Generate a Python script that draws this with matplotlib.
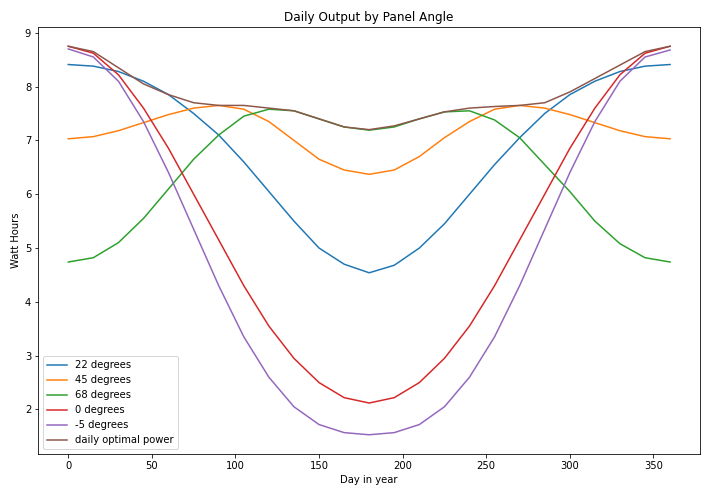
import matplotlib
matplotlib.use("Agg")
import matplotlib.pyplot as plt

days = list(range(0, 361, 15))

deg22 = [8.41, 8.38, 8.28, 8.1, 7.85, 7.5, 7.1, 6.6, 6.05, 5.5, 5.0, 4.7, 4.54,
         4.68, 5.0, 5.45, 6.0, 6.55, 7.05, 7.5, 7.85, 8.1, 8.28, 8.38, 8.41]
deg45 = [7.03, 7.07, 7.18, 7.33, 7.48, 7.6, 7.65, 7.58, 7.35, 7.0, 6.65, 6.45, 6.37,
         6.45, 6.7, 7.05, 7.35, 7.58, 7.65, 7.6, 7.48, 7.33, 7.18, 7.07, 7.03]
deg68 = [4.74, 4.82, 5.1, 5.55, 6.1, 6.65, 7.1, 7.45, 7.58, 7.55, 7.4, 7.25, 7.19,
         7.25, 7.4, 7.53, 7.55, 7.38, 7.05, 6.55, 6.05, 5.5, 5.08, 4.82, 4.74]
deg0 = [8.75, 8.62, 8.22, 7.6, 6.85, 6.0, 5.15, 4.3, 3.55, 2.95, 2.5, 2.22, 2.12,
        2.22, 2.5, 2.95, 3.55, 4.3, 5.15, 6.0, 6.85, 7.6, 8.22, 8.62, 8.75]
degm5 = [8.7, 8.55, 8.1, 7.35, 6.4, 5.35, 4.3, 3.35, 2.6, 2.05, 1.72, 1.57, 1.53,
         1.57, 1.72, 2.05, 2.6, 3.35, 4.3, 5.35, 6.4, 7.35, 8.1, 8.55, 8.68]
optimal = [8.75, 8.65, 8.35, 8.05, 7.85, 7.7, 7.65, 7.65, 7.6, 7.55, 7.4, 7.25, 7.2,
           7.27, 7.4, 7.53, 7.6, 7.63, 7.65, 7.7, 7.9, 8.15, 8.4, 8.65, 8.75]

series = [("22 degrees", deg22), ("45 degrees", deg45), ("68 degrees", deg68),
          ("0 degrees", deg0), ("-5 degrees", degm5), ("daily optimal power", optimal)]

fig, ax = plt.subplots(figsize=(711 / 72, 496 / 72), dpi=72)
for label, values in series:
    ax.plot(days, values, label=label)
ax.set_title("Daily Output by Panel Angle")
ax.set_xlabel("Day in year")
ax.set_ylabel("Watt Hours")
ax.legend(loc="lower left")
fig.tight_layout()
fig.savefig("out.png", dpi=72)
